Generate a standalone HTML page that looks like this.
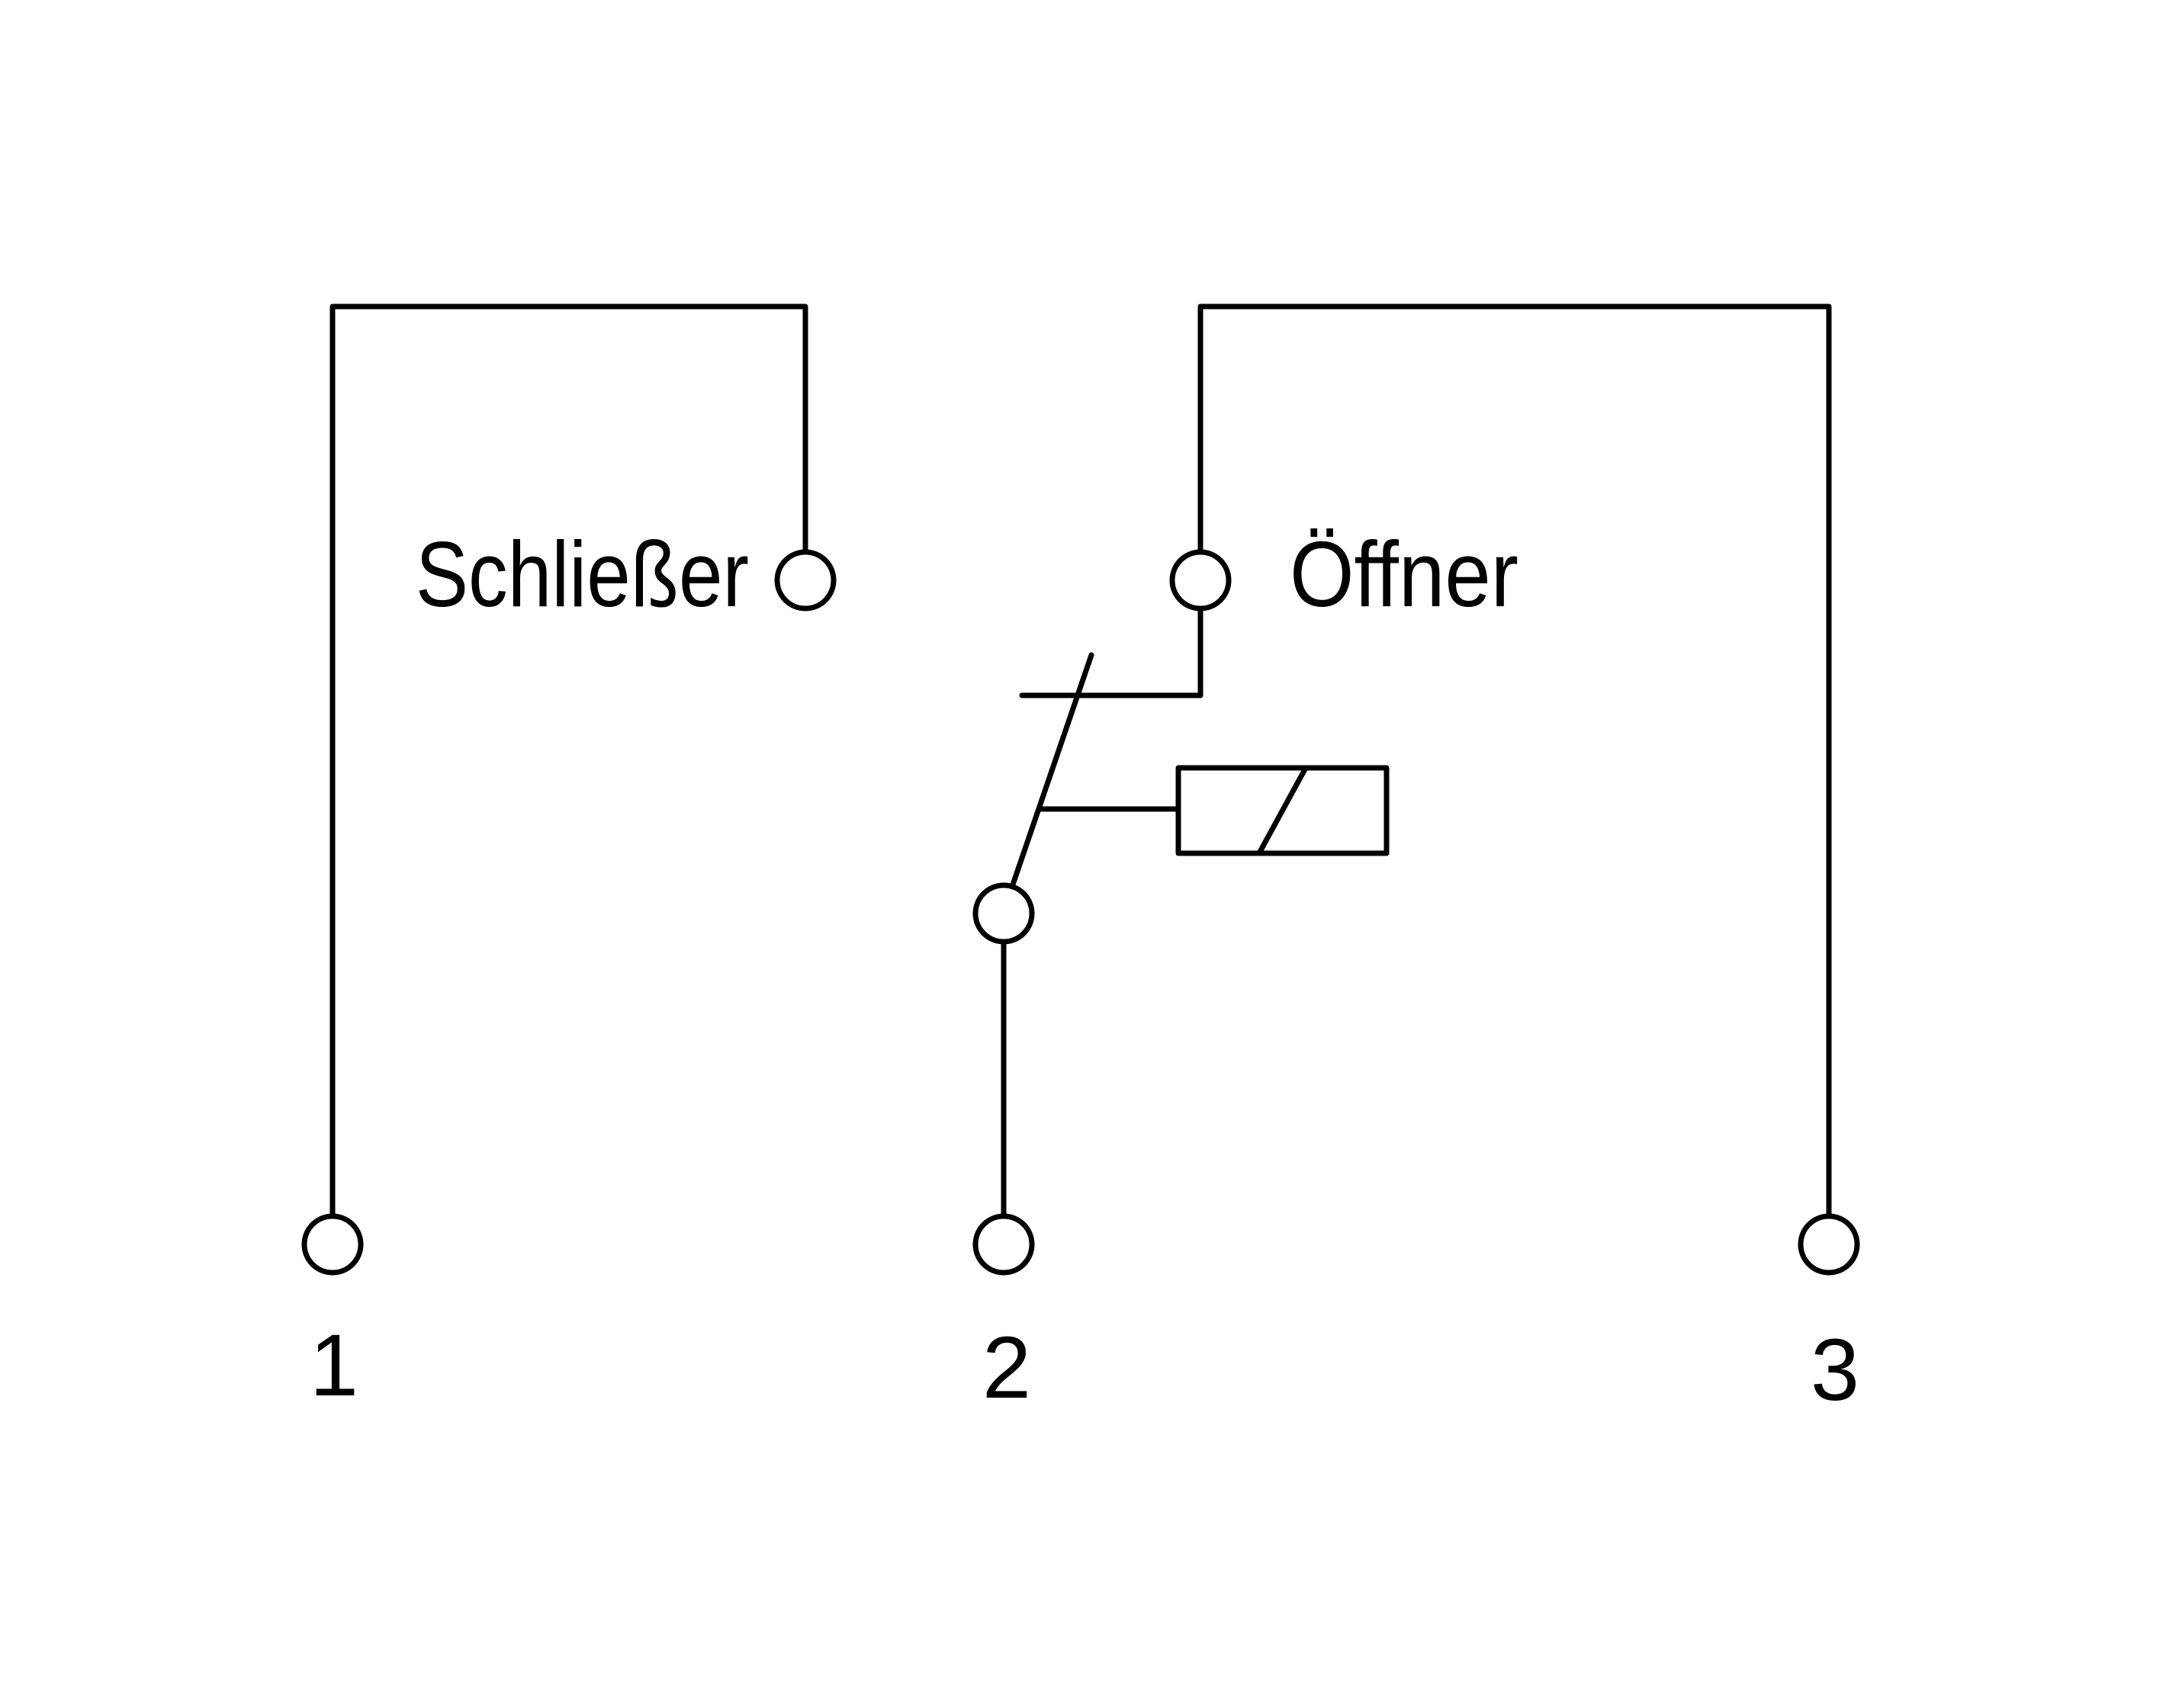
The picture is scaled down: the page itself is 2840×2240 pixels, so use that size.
<!DOCTYPE html>
<html><head><meta charset="utf-8"><style>
html,body{margin:0;padding:0;background:#fff;}
svg{display:block;}
text{font-family:"Liberation Sans",sans-serif;fill:#000;}
</style></head><body>
<svg width="2840" height="2240" viewBox="0 0 2840 2240" xmlns="http://www.w3.org/2000/svg">
<g fill="none" stroke="#000" stroke-width="7" stroke-linecap="round" stroke-linejoin="round">
  <polyline points="436,1595 436,402 1056,402 1056,724"/>
  <circle cx="1056" cy="761" r="37"/>
  <polyline points="2398,1595 2398,402 1574,402 1574,724"/>
  <circle cx="1574" cy="761" r="37"/>
  <polyline points="1574,798 1574,912 1340,912"/>
  <line x1="1431" y1="859" x2="1327" y2="1163"/>
  <line x1="1363" y1="1061" x2="1545" y2="1061"/>
  <rect x="1545" y="1007" width="273" height="112"/>
  <line x1="1651" y1="1119" x2="1712" y2="1007"/>
  <circle cx="1316" cy="1198" r="37"/>
  <line x1="1316" y1="1235" x2="1316" y2="1595"/>
  <circle cx="1316" cy="1632" r="37"/>
  <circle cx="436" cy="1632" r="37"/>
  <circle cx="2398" cy="1632" r="37"/>
</g>
<text x="545" y="795" font-size="122" textLength="437" lengthAdjust="spacingAndGlyphs">Schließer</text>
<text x="1691" y="795" font-size="122" textLength="300" lengthAdjust="spacingAndGlyphs">Öffner</text>
<text x="438" y="1830" font-size="115" text-anchor="middle">1</text>
<text x="1320" y="1833" font-size="115" text-anchor="middle">2</text>
<text x="2406" y="1836" font-size="115" text-anchor="middle">3</text>
</svg>
</body></html>
